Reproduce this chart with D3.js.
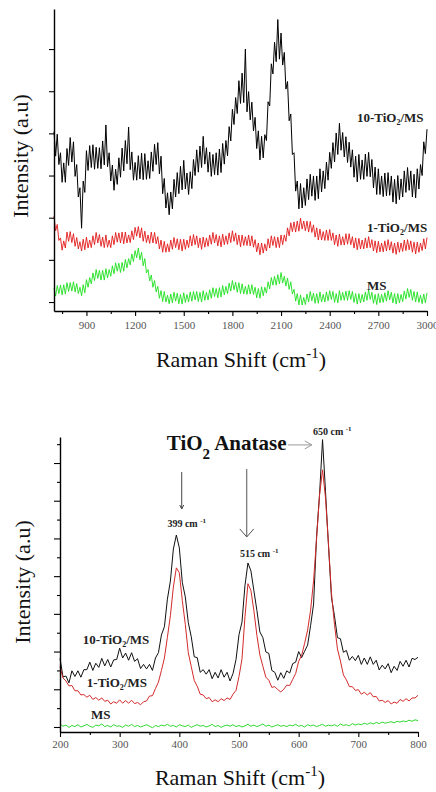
<!DOCTYPE html>
<html>
<head>
<meta charset="utf-8">
<script src="https://cdn.jsdelivr.net/npm/d3@7"></script>
<style>
    body { margin: 0; background: #fff; }
    text { font-family: "Liberation Serif", "Times New Roman", serif; }
</style>
</head>
<body>
<div id="chart"></div>
<script>
// ---- upper panel: 700 - 3000 cm-1, one reading every 10 cm-1 ----
let topShift = [700, 710, 720, 730, 740, 750, 760, 770, 780, 790,
    800, 810, 820, 830, 840, 850, 860, 870, 880, 890,
    900, 910, 920, 930, 940, 950, 960, 970, 980, 990,
    1000, 1010, 1020, 1030, 1040, 1050, 1060, 1070, 1080, 1090,
    1100, 1110, 1120, 1130, 1140, 1150, 1160, 1170, 1180, 1190,
    1200, 1210, 1220, 1230, 1240, 1250, 1260, 1270, 1280, 1290,
    1300, 1310, 1320, 1330, 1340, 1350, 1360, 1370, 1380, 1390,
    1400, 1410, 1420, 1430, 1440, 1450, 1460, 1470, 1480, 1490,
    1500, 1510, 1520, 1530, 1540, 1550, 1560, 1570, 1580, 1590,
    1600, 1610, 1620, 1630, 1640, 1650, 1660, 1670, 1680, 1690,
    1700, 1710, 1720, 1730, 1740, 1750, 1760, 1770, 1780, 1790,
    1800, 1810, 1820, 1830, 1840, 1850, 1860, 1870, 1880, 1890,
    1900, 1910, 1920, 1930, 1940, 1950, 1960, 1970, 1980, 1990,
    2000, 2010, 2020, 2030, 2040, 2050, 2060, 2070, 2080, 2090,
    2100, 2110, 2120, 2130, 2140, 2150, 2160, 2170, 2180, 2190,
    2200, 2210, 2220, 2230, 2240, 2250, 2260, 2270, 2280, 2290,
    2300, 2310, 2320, 2330, 2340, 2350, 2360, 2370, 2380, 2390,
    2400, 2410, 2420, 2430, 2440, 2450, 2460, 2470, 2480, 2490,
    2500, 2510, 2520, 2530, 2540, 2550, 2560, 2570, 2580, 2590,
    2600, 2610, 2620, 2630, 2640, 2650, 2660, 2670, 2680, 2690,
    2700, 2710, 2720, 2730, 2740, 2750, 2760, 2770, 2780, 2790,
    2800, 2810, 2820, 2830, 2840, 2850, 2860, 2870, 2880, 2890,
    2900, 2910, 2920, 2930, 2940, 2950, 2960, 2970, 2980, 2990,
    3000];

// 10-TiO2/MS
let topBlack = [4.04, 3.46, 3.98, 3.26, 3.54, 2.84, 3.30, 2.84, 3.64, 3.24,
    3.90, 3.32, 3.80, 2.98, 3.26, 2.49, 2.71, 1.75, 2.87, 2.60,
    3.59, 3.12, 3.71, 3.19, 3.73, 3.15, 3.67, 3.17, 3.66, 3.16,
    3.82, 3.25, 4.20, 3.21, 3.54, 2.87, 3.25, 2.65, 3.15, 2.79,
    3.42, 2.96, 3.65, 3.11, 3.83, 3.28, 4.15, 3.14, 3.56, 2.89,
    3.31, 2.89, 3.47, 2.92, 3.53, 2.90, 3.52, 2.91, 3.35, 2.93,
    3.56, 3.10, 3.74, 3.26, 3.78, 3.04, 3.46, 2.57, 2.93, 2.23,
    2.59, 2.07, 2.61, 2.21, 2.91, 2.49, 3.07, 2.57, 3.22, 2.66,
    3.36, 2.68, 3.06, 2.55, 3.09, 2.69, 3.38, 3.00, 3.61, 3.08,
    3.70, 3.19, 3.93, 3.27, 3.66, 3.08, 3.56, 2.98, 3.50, 3.02,
    3.54, 3.01, 3.63, 3.07, 3.76, 3.27, 3.83, 3.47, 4.16, 3.82,
    4.57, 4.21, 4.85, 4.47, 5.25, 4.71, 5.43, 4.73, 6.00, 4.51,
    4.99, 4.32, 4.74, 4.06, 4.38, 3.64, 4.06, 3.37, 3.93, 3.42,
    3.97, 3.83, 4.75, 4.65, 5.65, 5.41, 6.16, 5.70, 6.70, 5.76,
    6.38, 5.62, 5.92, 5.05, 5.23, 4.30, 4.46, 3.50, 3.54, 2.63,
    2.87, 2.21, 2.81, 2.23, 2.71, 2.29, 2.92, 2.43, 3.03, 2.51,
    2.99, 2.41, 2.99, 2.45, 3.16, 2.61, 3.11, 2.69, 3.32, 2.89,
    3.55, 3.17, 3.78, 3.32, 4.01, 3.50, 4.24, 3.60, 4.02, 3.44,
    3.92, 3.31, 3.79, 3.20, 3.61, 2.96, 3.46, 2.85, 3.50, 2.91,
    3.37, 2.91, 3.51, 2.98, 3.55, 2.97, 3.38, 2.71, 3.20, 2.55,
    3.16, 2.55, 2.99, 2.50, 3.06, 2.52, 3.07, 2.53, 2.99, 2.37,
    2.91, 2.33, 3.00, 2.43, 2.92, 2.49, 3.11, 2.60, 3.19, 2.65,
    3.11, 2.49, 3.03, 2.47, 3.16, 2.68, 3.26, 3.00, 3.80, 3.52,
    4.10];

// 1-TiO2/MS
let topRed = [2.04, 1.69, 1.84, 1.46, 1.52, 1.23, 1.45, 1.28, 1.66, 1.44,
    1.67, 1.41, 1.62, 1.32, 1.53, 1.26, 1.43, 1.21, 1.49, 1.24,
    1.54, 1.28, 1.47, 1.29, 1.57, 1.36, 1.65, 1.40, 1.60, 1.32,
    1.54, 1.29, 1.59, 1.30, 1.47, 1.29, 1.57, 1.36, 1.65, 1.42,
    1.64, 1.40, 1.66, 1.38, 1.66, 1.40, 1.59, 1.41, 1.69, 1.48,
    1.77, 1.56, 1.79, 1.52, 1.76, 1.44, 1.68, 1.41, 1.59, 1.39,
    1.66, 1.40, 1.65, 1.38, 1.55, 1.26, 1.47, 1.18, 1.44, 1.18,
    1.38, 1.19, 1.47, 1.25, 1.53, 1.29, 1.50, 1.24, 1.49, 1.21,
    1.49, 1.25, 1.47, 1.29, 1.57, 1.33, 1.60, 1.36, 1.57, 1.29,
    1.52, 1.25, 1.54, 1.30, 1.52, 1.32, 1.59, 1.37, 1.65, 1.40,
    1.60, 1.33, 1.57, 1.31, 1.61, 1.36, 1.57, 1.37, 1.64, 1.41,
    1.69, 1.44, 1.64, 1.36, 1.59, 1.31, 1.59, 1.34, 1.55, 1.34,
    1.59, 1.33, 1.57, 1.30, 1.48, 1.19, 1.40, 1.12, 1.40, 1.16,
    1.38, 1.21, 1.50, 1.28, 1.57, 1.34, 1.55, 1.29, 1.54, 1.29,
    1.59, 1.36, 1.59, 1.44, 1.76, 1.57, 1.88, 1.67, 1.90, 1.66,
    1.92, 1.68, 1.99, 1.73, 1.92, 1.69, 1.92, 1.66, 1.91, 1.65,
    1.83, 1.54, 1.76, 1.47, 1.73, 1.47, 1.67, 1.46, 1.71, 1.46,
    1.72, 1.46, 1.64, 1.36, 1.59, 1.32, 1.61, 1.35, 1.55, 1.35,
    1.62, 1.37, 1.62, 1.36, 1.55, 1.28, 1.52, 1.24, 1.51, 1.26,
    1.47, 1.26, 1.52, 1.28, 1.55, 1.29, 1.48, 1.21, 1.45, 1.17,
    1.44, 1.19, 1.40, 1.19, 1.45, 1.21, 1.48, 1.23, 1.43, 1.16,
    1.40, 1.13, 1.42, 1.18, 1.40, 1.20, 1.47, 1.22, 1.48, 1.24,
    1.45, 1.18, 1.42, 1.14, 1.42, 1.18, 1.40, 1.22, 1.50, 1.26,
    1.53];

// MS
let topGreen = [0.33, 0.14, 0.39, 0.20, 0.40, 0.17, 0.41, 0.19, 0.46, 0.25,
    0.46, 0.26, 0.48, 0.24, 0.44, 0.20, 0.35, 0.15, 0.41, 0.22,
    0.53, 0.35, 0.58, 0.43, 0.69, 0.51, 0.77, 0.56, 0.75, 0.52,
    0.75, 0.52, 0.79, 0.57, 0.77, 0.61, 0.86, 0.67, 0.93, 0.73,
    0.92, 0.70, 0.94, 0.73, 1.01, 0.81, 1.03, 0.88, 1.14, 0.96,
    1.22, 1.05, 1.28, 1.00, 1.18, 0.86, 1.03, 0.69, 0.77, 0.50,
    0.64, 0.35, 0.51, 0.24, 0.37, 0.09, 0.27, 0.01, 0.25, 0.00,
    0.16, -0.04, 0.19, -0.02, 0.23, 0.02, 0.21, -0.04, 0.18, -0.05,
    0.22, -0.01, 0.18, 0.00, 0.24, 0.02, 0.25, 0.05, 0.25, 0.01,
    0.23, 0.00, 0.27, 0.04, 0.23, 0.05, 0.29, 0.09, 0.34, 0.13,
    0.32, 0.10, 0.34, 0.12, 0.39, 0.17, 0.37, 0.20, 0.45, 0.26,
    0.51, 0.29, 0.47, 0.23, 0.46, 0.20, 0.43, 0.19, 0.37, 0.18,
    0.41, 0.19, 0.41, 0.18, 0.35, 0.10, 0.32, 0.09, 0.36, 0.15,
    0.35, 0.21, 0.48, 0.31, 0.58, 0.40, 0.61, 0.40, 0.65, 0.43,
    0.70, 0.45, 0.61, 0.38, 0.57, 0.30, 0.48, 0.19, 0.30, 0.02,
    0.20, -0.07, 0.17, -0.07, 0.11, -0.06, 0.19, 0.00, 0.25, 0.03,
    0.21, -0.03, 0.20, -0.03, 0.24, 0.00, 0.18, 0.00, 0.24, 0.03,
    0.27, 0.06, 0.25, -0.01, 0.20, -0.02, 0.27, 0.04, 0.23, 0.04,
    0.26, 0.04, 0.27, 0.06, 0.25, -0.01, 0.20, -0.05, 0.20, -0.02,
    0.18, 0.00, 0.24, 0.04, 0.29, 0.06, 0.23, -0.03, 0.18, -0.06,
    0.20, -0.02, 0.18, -0.01, 0.22, 0.02, 0.27, 0.05, 0.23, -0.02,
    0.20, -0.05, 0.20, -0.02, 0.18, 0.01, 0.26, 0.07, 0.32, 0.11,
    0.30, 0.04, 0.25, 0.00, 0.24, -0.01, 0.16, -0.04, 0.19, -0.02,
    0.22];

let topTicks = [900, 1200, 1500, 1800, 2100, 2400, 2700, 3000];
let topMinor = [750, 1050, 1350, 1650, 1950, 2250, 2550, 2850];
let topYTicks = [0, 1, 2, 3, 4, 5, 6];

// ---- lower panel: 200 - 800 cm-1 ----
let botShift = [200, 205, 210, 215, 220, 225, 230, 235, 240, 245,
    250, 255, 260, 265, 270, 275, 280, 285, 290, 295,
    300, 305, 310, 315, 320, 325, 330, 335, 340, 345,
    350, 355, 360, 365, 370, 375, 380, 385, 390, 395,
    400, 405, 410, 415, 420, 425, 430, 435, 440, 445,
    450, 455, 460, 465, 470, 475, 480, 485, 490, 495,
    500, 505, 510, 515, 520, 525, 530, 535, 540, 545,
    550, 555, 560, 565, 570, 575, 580, 585, 590, 595,
    600, 605, 610, 615, 620, 625, 630, 635, 640, 645,
    650, 655, 660, 665, 670, 675, 680, 685, 690, 695,
    700, 705, 710, 715, 720, 725, 730, 735, 740, 745,
    750, 755, 760, 765, 770, 775, 780, 785, 790, 795,
    800];

let botBlack = [1.82, 1.33, 1.35, 1.17, 1.49, 1.34, 1.49, 1.32, 1.52, 1.52,
    1.72, 1.50, 1.69, 1.58, 1.82, 1.62, 1.79, 1.59, 1.78, 1.79,
    2.09, 1.83, 1.96, 1.77, 1.97, 1.74, 1.81, 1.55, 1.66, 1.54,
    1.66, 1.50, 1.83, 1.97, 2.44, 2.66, 3.39, 3.87, 4.72, 5.09,
    4.75, 3.83, 3.45, 2.77, 2.39, 1.86, 1.84, 1.45, 1.52, 1.40,
    1.52, 1.28, 1.45, 1.30, 1.52, 1.32, 1.45, 1.22, 1.42, 1.79,
    2.45, 2.78, 3.75, 4.35, 4.14, 3.61, 3.09, 2.52, 2.37, 1.99,
    1.95, 1.50, 1.45, 1.24, 1.44, 1.29, 1.49, 1.43, 1.68, 1.72,
    2.00, 1.84, 2.01, 2.17, 2.69, 3.26, 5.05, 6.17, 7.62, 6.24,
    4.80, 3.43, 2.95, 2.37, 2.34, 1.98, 2.03, 1.77, 1.87, 1.76,
    1.90, 1.66, 1.83, 1.66, 1.86, 1.66, 1.77, 1.51, 1.64, 1.54,
    1.68, 1.44, 1.61, 1.50, 1.74, 1.61, 1.77, 1.59, 1.82, 1.79,
    1.85];

let botRed = [1.60, 1.30, 1.22, 1.09, 1.10, 0.96, 0.96, 0.85, 0.86, 0.79,
    0.84, 0.73, 0.78, 0.71, 0.77, 0.68, 0.71, 0.61, 0.67, 0.63,
    0.72, 0.63, 0.70, 0.63, 0.71, 0.62, 0.65, 0.59, 0.67, 0.69,
    0.82, 0.83, 1.02, 1.19, 1.50, 1.83, 2.38, 2.95, 3.71, 4.22,
    4.09, 3.35, 2.72, 1.97, 1.60, 1.23, 1.08, 0.87, 0.85, 0.75,
    0.78, 0.67, 0.72, 0.67, 0.75, 0.70, 0.77, 0.73, 0.87, 0.97,
    1.34, 1.80, 2.92, 3.80, 3.62, 3.08, 2.43, 1.91, 1.61, 1.32,
    1.24, 1.05, 1.07, 0.99, 0.93, 1.00, 1.11, 1.10, 1.26, 1.42,
    1.74, 1.90, 2.22, 2.57, 3.10, 3.88, 4.99, 6.15, 6.82, 6.07,
    4.84, 3.55, 2.72, 2.07, 1.75, 1.38, 1.25, 1.07, 1.07, 0.97,
    0.99, 0.87, 0.92, 0.85, 0.91, 0.80, 0.81, 0.69, 0.71, 0.65,
    0.70, 0.61, 0.66, 0.63, 0.73, 0.68, 0.75, 0.69, 0.77, 0.77,
    0.84];

let botGreen = [0.08, 0.02, 0.05, -0.01, 0.04, 0.01, 0.06, 0.00, 0.03, 0.07,
    0.02, -0.01, 0.05, 0.03, 0.08, 0.01, 0.04, 0.00, 0.06, 0.02,
    0.03, -0.01, 0.05, 0.02, 0.07, 0.01, 0.04, 0.00, 0.03, 0.06,
    0.02, -0.02, 0.04, 0.01, 0.05, 0.03, 0.07, 0.02, 0.04, 0.00,
    0.06, 0.03, 0.01, 0.05, -0.01, 0.03, 0.06, 0.02, 0.04, 0.00,
    0.03, 0.07, 0.01, 0.04, -0.01, 0.03, 0.05, 0.02, 0.06, 0.01,
    0.04, 0.00, 0.03, 0.07, 0.02, 0.05, 0.01, 0.04, 0.08, 0.02,
    0.05, 0.00, 0.03, 0.06, 0.02, 0.04, 0.01, 0.05, 0.03, 0.07,
    0.02, 0.04, 0.00, 0.06, 0.03, 0.05, 0.01, 0.04, 0.07, 0.02,
    0.05, 0.03, 0.06, 0.02, 0.08, 0.04, 0.06, 0.03, 0.09, 0.05,
    0.08, 0.06, 0.10, 0.07, 0.11, 0.08, 0.12, 0.09, 0.13, 0.10,
    0.12, 0.14, 0.11, 0.15, 0.13, 0.16, 0.14, 0.18, 0.15, 0.19,
    0.17];

let botTicks = [200, 300, 400, 500, 600, 700, 800];
let botMinor = [250, 350, 450, 550, 650, 750];
let botYTicks = [0, 1, 2, 3, 4, 5, 6, 7];
let botYMinor = [0.5, 1.5, 2.5, 3.5, 4.5, 5.5, 6.5, 7.5];

let width = 436,
    height = 792;

let svg = d3.select("#chart")
    .append("svg")
    .attr("width", width)
    .attr("height", height);

function drawPanel(p) {
    let x = d3.scaleLinear().domain(p.xDomain).range(p.xRange);
    let y = d3.scaleLinear().domain(p.yDomain).range(p.yRange);
    let g = svg.append("g");

    let line = d3.line()
        .x(function (d, i) { return x(p.shift[i]); })
        .y(function (d) { return y(d); });

    p.series.forEach(function (s) {
        g.append("path")
            .datum(s.values)
            .attr("d", line)
            .style("fill", "none")
            .style("stroke", s.color)
            .style("stroke-width", s.width)
            .style("stroke-linejoin", "round");
    });

    // bottom axis, major + minor
    let xAxis = g.append("g")
        .attr("transform", "translate(0," + p.yRange[0] + ")")
        .call(d3.axisBottom(x).tickValues(p.xTicks).tickSize(5).tickSizeOuter(0).tickPadding(p.pad).tickFormat(d3.format("d")));
    xAxis.selectAll("text").style("font-size", "11px").style("fill", "#555");
    g.append("g")
        .attr("transform", "translate(0," + p.yRange[0] + ")")
        .call(d3.axisBottom(x).tickValues(p.xMinor).tickSize(3).tickFormat(""))
        .select(".domain").remove();

    // left axis, no labels
    g.append("g")
        .attr("transform", "translate(" + p.xRange[0] + ",0)")
        .call(d3.axisLeft(y).tickValues(p.yTicks).tickSize(p.yTickSize).tickSizeOuter(0).tickFormat(""));
    if (p.yMinor) {
        g.append("g")
            .attr("transform", "translate(" + p.xRange[0] + ",0)")
            .call(d3.axisLeft(y).tickValues(p.yMinor).tickSize(3).tickFormat(""))
            .select(".domain").remove();
    }
    g.selectAll(".domain").style("stroke-width", 1.4);
    g.selectAll(".tick line").style("stroke-width", 1.1);

    // axis titles
    let xt = g.append("text")
        .attr("x", p.xTitle[0])
        .attr("y", p.xTitle[1])
        .style("text-anchor", "middle")
        .style("font-size", "22px")
        .style("fill", "#111");
    xt.append("tspan").text("Raman Shift (cm");
    xt.append("tspan").attr("dy", -9).style("font-size", "15px").text("-1");
    xt.append("tspan").attr("dy", 9).text(")");

    g.append("text")
        .attr("transform", "translate(" + p.yTitle[0] + "," + p.yTitle[1] + ") rotate(-90)")
        .style("text-anchor", "middle")
        .style("font-size", "22px")
        .style("fill", "#111")
        .text("Intensity (a.u)");

    return { x: x, y: y, g: g };
}

// series label with subscript 2
function tioLabel(g, xp, yp, prefix, size) {
    let t = g.append("text")
        .attr("x", xp)
        .attr("y", yp)
        .style("font-size", size + "px")
        .style("font-weight", "bold")
        .style("fill", "#222");
    if (prefix === null) {
        t.text("MS");
        return;
    }
    t.append("tspan").text(prefix + "-TiO");
    t.append("tspan").attr("dy", 3).style("font-size", (size * 0.62) + "px").text("2");
    t.append("tspan").attr("dy", -3).text("/MS");
}

let upper = drawPanel({
    shift: topShift,
    xDomain: [700, 3000], xRange: [54, 427],
    yDomain: [-0.213, 6.95], yRange: [311, 9],
    xTicks: topTicks, xMinor: topMinor, yTicks: topYTicks, yMinor: null, yTickSize: 5,
    pad: 5,
    xTitle: [241, 367], yTitle: [28, 156],
    series: [
        { values: topGreen, color: "#1ee01e", width: 0.9 },
        { values: topRed, color: "#e21a1a", width: 0.9 },
        { values: topBlack, color: "#000", width: 1.0 }
    ]
});

tioLabel(upper.g, upper.x(2568), upper.y(4.27), "10", 13);
tioLabel(upper.g, upper.x(2630), upper.y(1.66), "1", 13);
tioLabel(upper.g, upper.x(2630), upper.y(0.28), null, 13);

let lower = drawPanel({
    shift: botShift,
    xDomain: [200, 800], xRange: [60, 418],
    yDomain: [-0.133, 7.69], yRange: [732, 437],
    xTicks: botTicks, xMinor: botMinor, yTicks: botYTicks, yMinor: botYMinor, yTickSize: 6,
    pad: 3,
    xTitle: [240, 785], yTitle: [30, 582],
    series: [
        { values: botGreen, color: "#2fd82f", width: 1 },
        { values: botBlack, color: "#111", width: 1 },
        { values: botRed, color: "#d42a2a", width: 1 }
    ]
});

tioLabel(lower.g, lower.x(238), lower.y(2.2), "10", 13);
tioLabel(lower.g, lower.x(245), lower.y(1.06), "1", 13);
tioLabel(lower.g, lower.x(252), lower.y(0.21), null, 13);

// ---- annotations of the anatase bands ----
let bx = lower.x, by = lower.y, bg = lower.g;

let head = bg.append("text")
    .attr("x", bx(379))
    .attr("y", by(7.35))
    .style("font-size", "21px")
    .style("font-weight", "bold")
    .style("fill", "#111");
head.append("tspan").text("TiO");
head.append("tspan").attr("dy", 9).style("font-size", "15px").text("2");
head.append("tspan").attr("dy", -9).text(" Anatase");

function peakLabel(w, v, num) {
    let t = bg.append("text")
        .attr("x", bx(w))
        .attr("y", by(v))
        .style("font-size", "10px")
        .style("font-weight", "bold")
        .style("fill", "#222");
    t.append("tspan").text(num + " cm ");
    t.append("tspan").attr("dy", -4).style("font-size", "7px").text("-1");
}
peakLabel(380, 5.31, "399");
peakLabel(501.5, 4.51, "515");
peakLabel(624, 7.75, "650");

// arrows
function arrow(x1, y1, x2, y2, hw, hl, color) {
    let ang = Math.atan2(y2 - y1, x2 - x1);
    bg.append("line")
        .attr("x1", x1).attr("y1", y1)
        .attr("x2", x2).attr("y2", y2)
        .style("stroke", color)
        .style("stroke-width", 1);
    let pts = [
        [x2 - hl * Math.cos(ang) + hw * Math.sin(ang), y2 - hl * Math.sin(ang) - hw * Math.cos(ang)],
        [x2, y2],
        [x2 - hl * Math.cos(ang) - hw * Math.sin(ang), y2 - hl * Math.sin(ang) + hw * Math.cos(ang)]
    ];
    bg.append("path")
        .attr("d", d3.line()(pts))
        .style("fill", "none")
        .style("stroke", color)
        .style("stroke-width", 1);
}
arrow(bx(404), by(6.76), bx(404), by(5.78), 2, 4, "#444");
arrow(bx(513), by(6.84), bx(513), by(5.04), 7, 8, "#555");
arrow(bx(582), by(7.48), bx(622), by(7.48), 4, 7, "#999");
</script>
</body>
</html>
